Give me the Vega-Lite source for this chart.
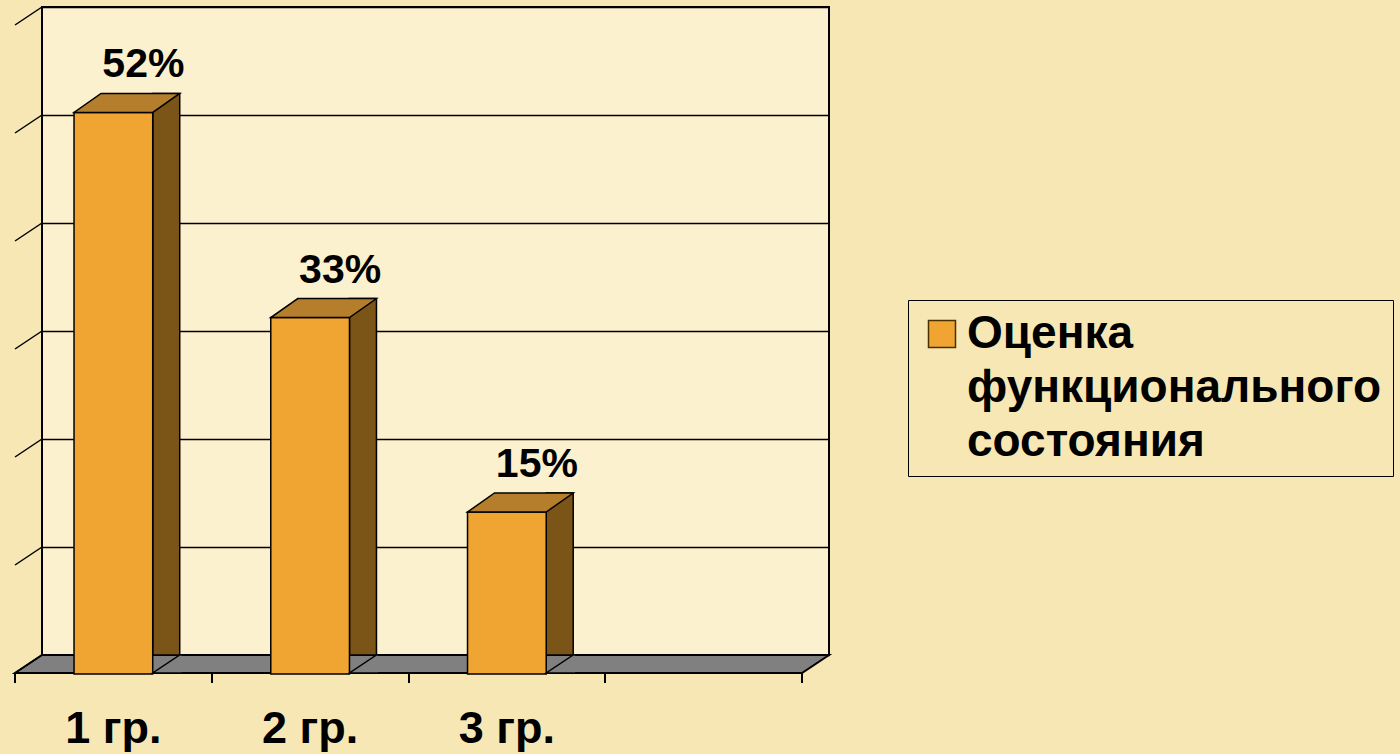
{
  "$schema": "https://vega.github.io/schema/vega-lite/v6.json",
  "width": 787,
  "height": 648,
  "autosize": {"type": "none"},
  "padding": {"left": 42, "top": 7, "right": 571, "bottom": 99},
  "background": "#F7E7B5",
  "config": {
    "view": {"fill": "#FCF1CE", "stroke": "#000000", "strokeWidth": 2},
    "font": "Liberation Sans",
    "style": {"guide-label": {"lineHeight": 54}},
    "legend": {
      "orient": "none",
      "legendX": 866,
      "legendY": 293,
      "strokeColor": "#000000",
      "padding": 11,
      "symbolType": "square",
      "symbolSize": 729,
      "symbolStrokeColor": "#4A3000",
      "symbolStrokeWidth": 1.5,
      "labelFont": "Liberation Sans",
      "labelFontSize": 46,
      "labelFontWeight": "bold",
      "labelColor": "#000000",
      "labelLimit": 1000,
      "labelOffset": 2,
      "labelBaseline": "middle"
    }
  },
  "datasets": {
    "bars": [
      {"group": "1 гр.", "share": 0.52},
      {"group": "2 гр.", "share": 0.33},
      {"group": "3 гр.", "share": 0.15}
    ],
    "grid": [
      {"t": 0}, {"t": 0.1}, {"t": 0.2}, {"t": 0.3}, {"t": 0.4}, {"t": 0.5}, {"t": 0.6}
    ]
  },
  "data": {"name": "bars"},
  "encoding": {
    "x": {
      "field": "group",
      "type": "nominal",
      "sort": null,
      "title": null,
      "scale": {"domain": ["1 гр.", "2 гр.", "3 гр.", " "], "paddingInner": 0, "paddingOuter": 0},
      "axis": {
        "domain": false,
        "ticks": true,
        "tickBand": "extent",
        "tickExtra": true,
        "tickSize": 10,
        "tickWidth": 2,
        "tickColor": "#000000",
        "translate": -27,
        "offset": 45,
        "labelAngle": 0,
        "labelFont": "Liberation Sans",
        "labelFontSize": 45,
        "labelFontWeight": "bold",
        "labelColor": "#000000",
        "labelPadding": 24,
        "grid": false
      }
    },
    "y": {
      "field": "share",
      "type": "quantitative",
      "title": null,
      "scale": {"domain": [0, 0.6], "nice": false},
      "axis": {
        "values": [0, 0.1, 0.2, 0.3, 0.4, 0.5, 0.6],
        "domain": false,
        "ticks": false,
        "labels": false,
        "grid": true,
        "gridColor": "#000000",
        "gridWidth": 1.5,
        "gridOpacity": 1
      }
    }
  },
  "layer": [
    {
      "data": {"name": "grid"},
      "transform": [{"filter": "datum.t == 0"}],
      "mark": {
        "type": "point",
        "shape": "M -98.375 0 L 688.625 0 L 661.625 18 L -125.375 18 Z",
        "size": 4,
        "filled": true,
        "fill": "#808080",
        "stroke": "#000000",
        "strokeWidth": 2,
        "opacity": 1
      },
      "encoding": {
        "x": {"datum": "1 гр.", "type": "nominal"},
        "y": {"field": "t", "type": "quantitative"}
      }
    },
    {
      "data": {"name": "grid"},
      "mark": {
        "type": "point",
        "shape": "M -98.375 0 L -125.375 18",
        "size": 4,
        "filled": false,
        "stroke": "#000000",
        "strokeWidth": 1.5,
        "opacity": 1
      },
      "encoding": {
        "x": {"datum": "1 гр.", "type": "nominal"},
        "y": {"field": "t", "type": "quantitative"}
      }
    },
    {
      "data": {"values": [{"part": "wall"}]},
      "mark": {"type": "rule", "stroke": "#000000", "strokeWidth": 1.5, "xOffset": -125.375, "yOffset": 18, "y2Offset": 18},
      "encoding": {
        "x": {"datum": "1 гр.", "type": "nominal"},
        "y": {"datum": 0.6, "type": "quantitative"},
        "y2": {"datum": 0}
      }
    },
    {
      "mark": {
        "type": "bar",
        "width": 27,
        "xOffset": 25.85,
        "y2Offset": 18,
        "fill": "#7B5418",
        "stroke": "#000000",
        "strokeWidth": 1.5
      }
    },
    {
      "mark": {
        "type": "bar",
        "width": {"band": 0.4},
        "xOffset": -27,
        "x2Offset": -27,
        "yOffset": 19,
        "y2Offset": 18,
        "stroke": "#000000",
        "strokeWidth": 1.5,
        "opacity": 1
      },
      "encoding": {
        "color": {
          "datum": "Оценка функционального состояния",
          "type": "nominal",
          "scale": {"range": ["#F0A431"]},
          "legend": {
            "title": null,
            "labelExpr": "['Оценка', 'функционального', 'состояния']"
          }
        }
      }
    },
    {
      "mark": {
        "type": "point",
        "shape": "M -39.35 0 L 39.35 0 L 12.35 19 L -66.35 19 Z",
        "size": 4,
        "filled": true,
        "fill": "#B57E2C",
        "stroke": "#000000",
        "strokeWidth": 1.5,
        "opacity": 1
      }
    },
    {
      "mark": {
        "type": "point",
        "shape": "M 1.5 18 L -27 18 L 0 0 L 1.5 0",
        "size": 4,
        "filled": true,
        "fill": "#808080",
        "stroke": "#000000",
        "strokeWidth": 1.5,
        "opacity": 1,
        "xOffset": 39.35
      },
      "encoding": {
        "y": {"datum": 0, "type": "quantitative"}
      }
    },
    {
      "mark": {
        "type": "text",
        "font": "Liberation Sans",
        "fontSize": 41,
        "fontWeight": "bold",
        "color": "#000000",
        "baseline": "alphabetic",
        "dy": -16,
        "dx": 3
      },
      "encoding": {
        "text": {"field": "share", "type": "quantitative", "format": ".0%"}
      }
    }
  ]
}
